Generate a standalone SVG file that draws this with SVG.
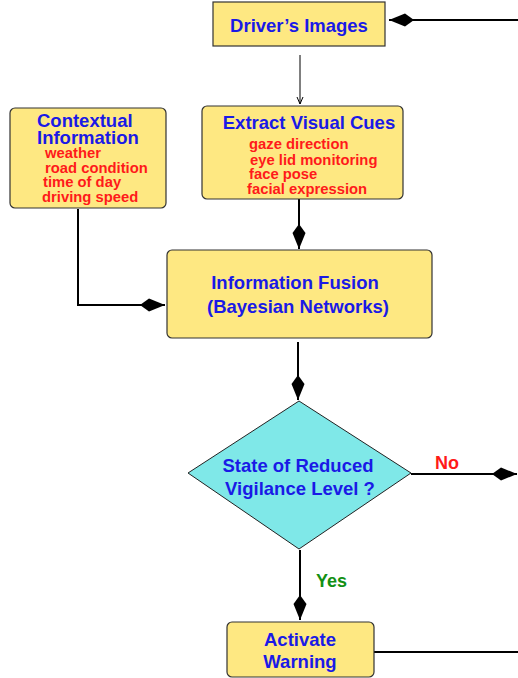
<svg xmlns="http://www.w3.org/2000/svg" width="518" height="678" viewBox="0 0 518 678">
<style>
.box{fill:#fee882;stroke:#333;stroke-width:1.2}
.t{font-family:"Liberation Sans",Arial,sans-serif;font-weight:bold;fill:#1a1ae6;font-size:18.5px}
.r{font-family:"Liberation Sans",Arial,sans-serif;font-weight:bold;fill:#ff1a1a;font-size:14.8px}
.c{stroke:#000;stroke-width:2;fill:none}
.lbl{font-family:"Liberation Sans",Arial,sans-serif;font-weight:bold;font-size:18px}
</style>
<defs>
<marker id="dia" markerUnits="userSpaceOnUse" markerWidth="26" markerHeight="16" viewBox="0 -8 26 16" refX="25" refY="0" orient="auto">
<path d="M0,0 L9,-6.5 L25,0 L9,6.5 Z" fill="#000"/>
</marker>
<marker id="thin" markerUnits="userSpaceOnUse" markerWidth="8" markerHeight="10" viewBox="0 -5 8 10" refX="7" refY="0" orient="auto">
<path d="M0,-3 L7,0 L0,3" fill="none" stroke="#000" stroke-width="1"/>
</marker>
</defs>
<g id="connectors">
<line class="c" x1="518" y1="20" x2="389" y2="20" marker-end="url(#dia)"/>
<line x1="300" y1="55" x2="300" y2="104" stroke="#000" stroke-width="1" marker-end="url(#thin)"/>
<polyline class="c" points="78,209 78,305 165,305" marker-end="url(#dia)"/>
<line class="c" x1="299" y1="199" x2="299" y2="249" marker-end="url(#dia)"/>
<line class="c" x1="298" y1="342" x2="298" y2="400" marker-end="url(#dia)"/>
<line class="c" x1="411" y1="474" x2="517" y2="474" marker-end="url(#dia)"/>
<line class="c" x1="300" y1="550" x2="300" y2="620" marker-end="url(#dia)"/>
<line class="c" x1="374" y1="652" x2="518" y2="652"/>
<text class="lbl" x="435" y="469" fill="#ff1a1a">No</text>
<text class="lbl" x="316" y="587" fill="#139013">Yes</text>
</g>
<g id="drivers-images">
<rect class="box" x="213" y="2" width="172" height="44"/>
<text class="t" x="299" y="32" text-anchor="middle">Driver’s Images</text>
</g>
<g id="contextual-information">
<rect class="box" x="10" y="108" width="156" height="100" rx="5"/>
<text class="t" x="37" y="127">Contextual</text>
<text class="t" x="37" y="144">Information</text>
<text class="r" x="45" y="158">weather</text>
<text class="r" x="45" y="173">road condition</text>
<text class="r" x="43" y="187">time of day</text>
<text class="r" x="42" y="202">driving speed</text>
</g>
<g id="extract-visual-cues">
<rect class="box" x="202" y="106" width="201" height="93" rx="5"/>
<text class="t" x="309" y="129" text-anchor="middle">Extract Visual Cues</text>
<text class="r" x="249" y="149">gaze direction</text>
<text class="r" x="250" y="165">eye lid monitoring</text>
<text class="r" x="249" y="179">face pose</text>
<text class="r" x="247" y="194">facial expression</text>
</g>
<g id="information-fusion">
<rect class="box" x="167" y="250" width="265" height="88" rx="5"/>
<text class="t" x="295" y="289" text-anchor="middle">Information Fusion</text>
<text class="t" x="298" y="313" text-anchor="middle">(Bayesian Networks)</text>
</g>
<g id="reduced-vigilance">
<polygon points="299,401 411,473 299,549 188,473" fill="#7fe8e8" stroke="#222" stroke-width="1"/>
<text class="t" x="298" y="472" text-anchor="middle">State of Reduced</text>
<text class="t" x="300" y="495" text-anchor="middle">Vigilance Level ?</text>
</g>
<g id="activate-warning">
<rect class="box" x="227" y="622" width="147" height="55" rx="5"/>
<text class="t" x="300" y="646" text-anchor="middle">Activate</text>
<text class="t" x="300" y="668" text-anchor="middle">Warning</text>
</g>
</svg>
